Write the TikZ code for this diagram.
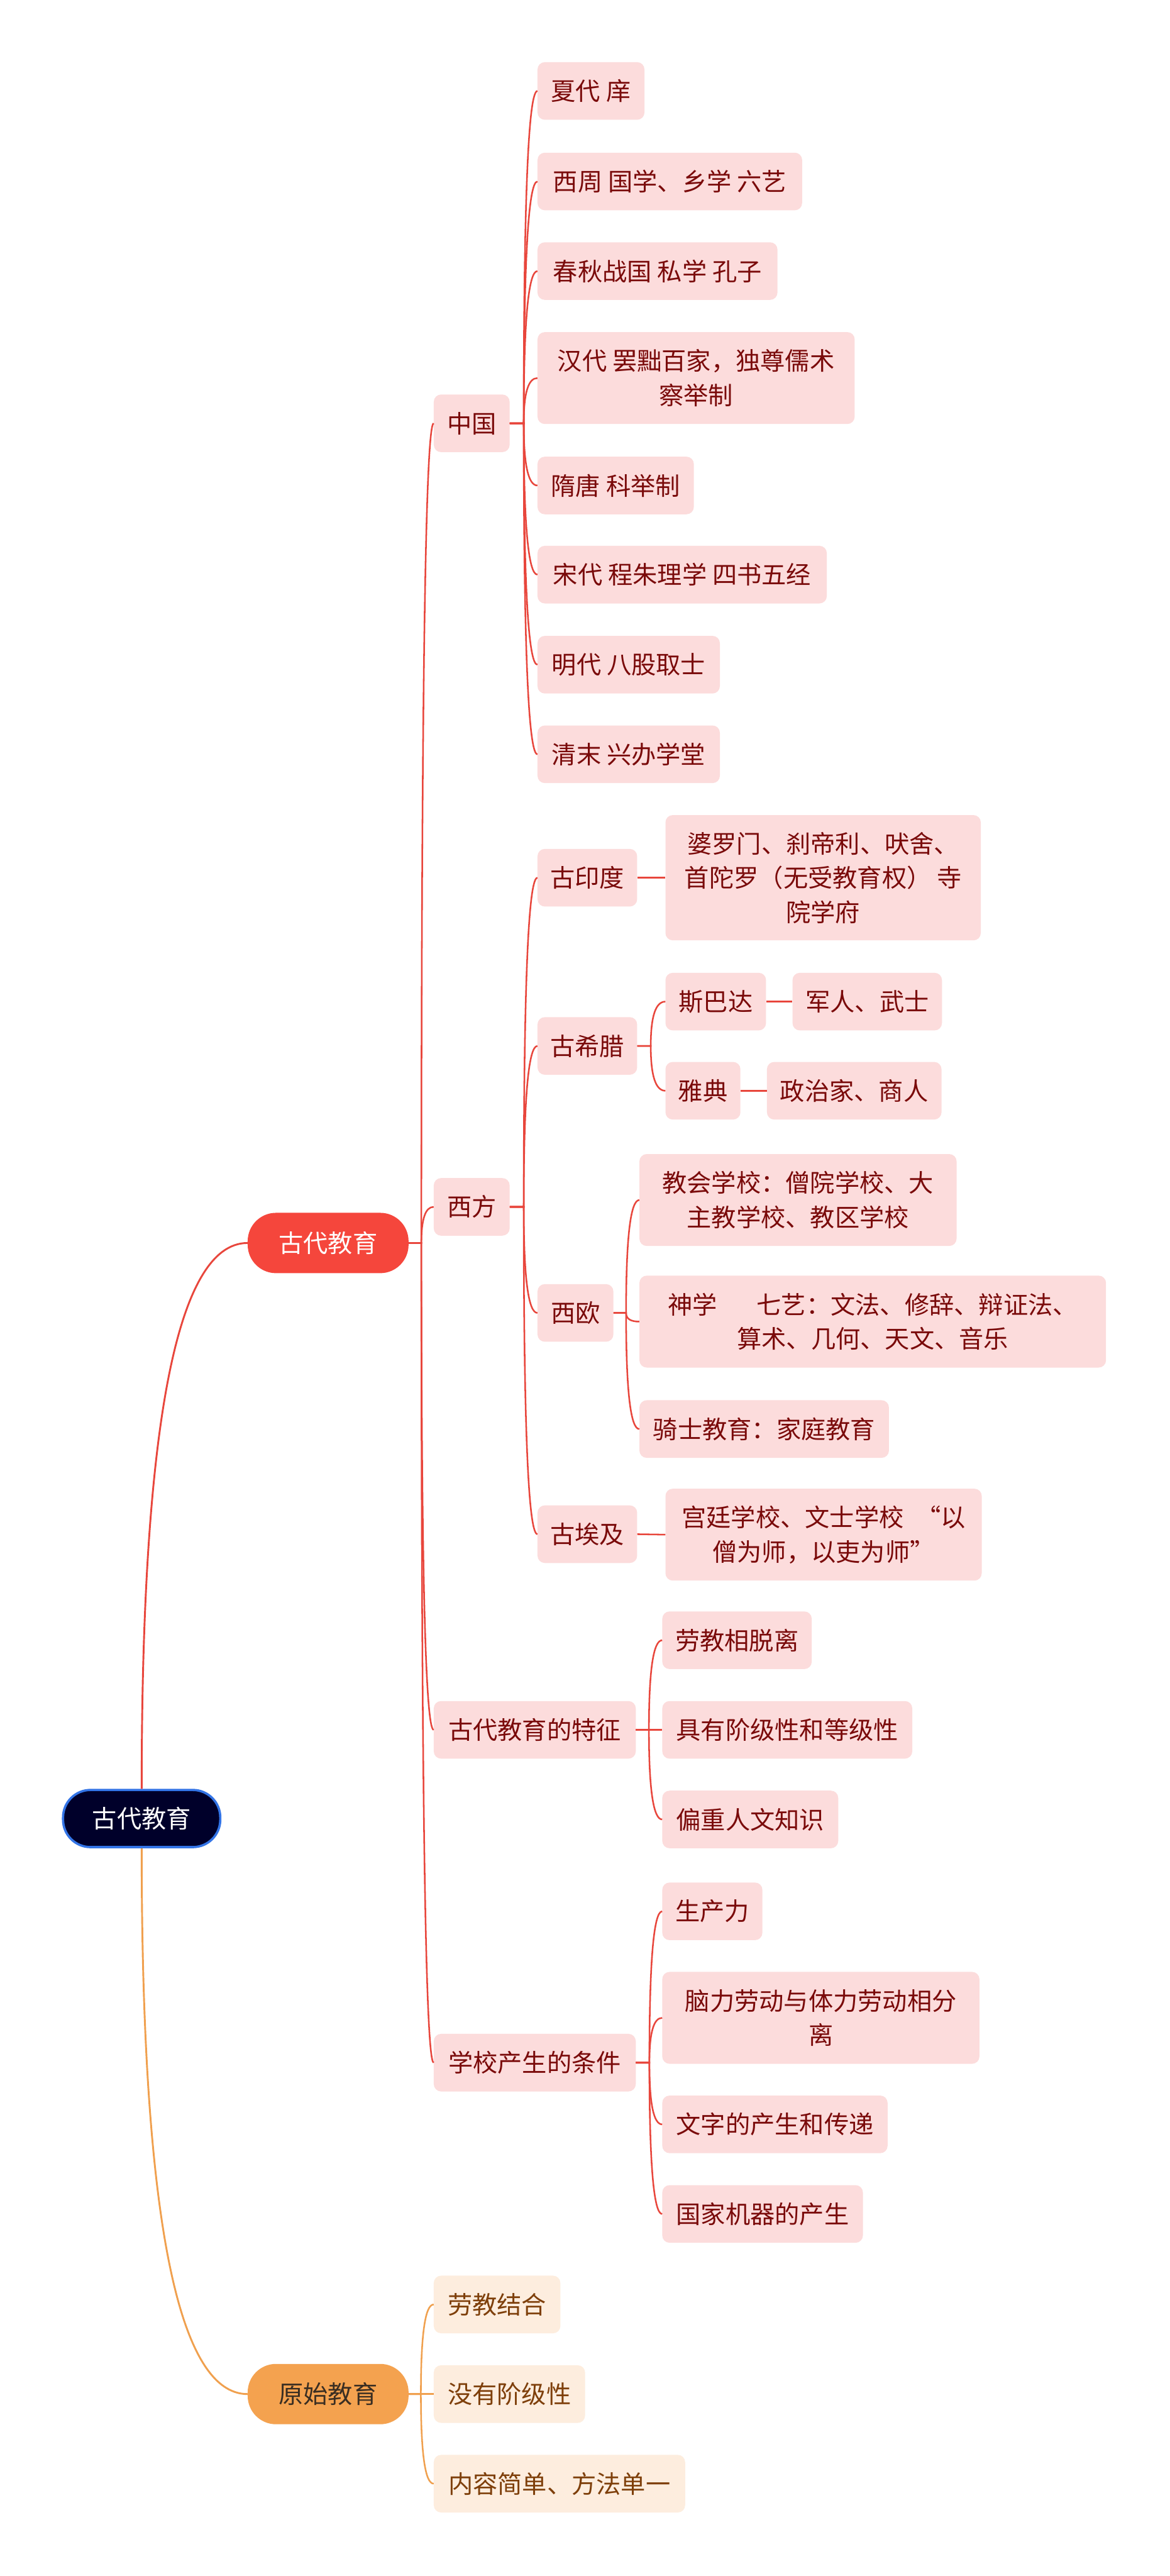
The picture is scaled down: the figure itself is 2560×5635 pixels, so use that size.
\documentclass[tikz,border=0pt]{standalone}
\usepackage{fontspec}
\newfontfamily\cjkfont{Noto Sans CJK SC}
\usetikzlibrary{calc}
\definecolor{pinkfill}{HTML}{FCDCDC}
\definecolor{pinktext}{HTML}{7A0A0A}
\definecolor{redline}{HTML}{E8463C}
\definecolor{redfill}{HTML}{F5463C}
\definecolor{orfill}{HTML}{F4A24F}
\definecolor{ortext}{HTML}{3A2E22}
\definecolor{orlight}{HTML}{FDEDDE}
\definecolor{orbrown}{HTML}{7E3F0A}
\definecolor{orline}{HTML}{F0A04E}
\definecolor{navyfill}{HTML}{00002A}
\definecolor{rootblue}{HTML}{3374E6}
\tikzset{
  base/.style={font={\cjkfont\fontsize{54}{75}\selectfont}, inner xsep=28pt, inner ysep=0pt, anchor=west, align=center},
  pinkbox/.style={base, fill=pinkfill, text=pinktext, rounded corners=16pt, minimum height=126pt},
  orbox/.style={base, fill=orlight, text=orbrown, rounded corners=16pt, minimum height=126pt},
  rootbox/.style={base, anchor=center, fill=navyfill, draw=rootblue, line width=5pt, text=white, rounded corners=60pt, minimum width=344pt, minimum height=125pt},
  lonebox/.style={base, anchor=center, rounded corners=62pt, minimum width=352pt, minimum height=132pt},
  rl/.style={draw=redline, line width=3.5pt},
  ol/.style={draw=orline, line width=3.5pt},
}
\newcommand\mmconn[4]{%
  \draw[#1] (#2.east) -- (#2.east -| #3) .. controls ($(#2.east -| #3)!0.667!(#3 |- #4.west)$) and ($(#4.west)!0.667!(#3 |- #4.west)$) .. (#4.west);}
\begin{document}
\begin{tikzpicture}[x=1pt, y=-1pt]
\useasboundingbox[fill=white] (0,0) rectangle (2560,5635);
% spines
\coordinate (s0) at (922,0);
\coordinate (sZ) at (1146,0);
\coordinate (sX) at (1146,0);
\coordinate (sG) at (1424,0);
\coordinate (sO) at (1370,0);
\coordinate (sT) at (1420,0);
\coordinate (sS) at (1421,0);
\coordinate (sY) at (921,0);
% root and level 1
\node[rootbox] (root) at (310,3978) {古代教育};
\node[lonebox, fill=redfill, text=white] (gd) at (718,2719) {古代教育};
\node[lonebox, fill=orfill, text=ortext] (ys) at (718,5237) {原始教育};
% level 2
\node[pinkbox, minimum width=166pt] (zg) at (949,926) {中国};
\node[pinkbox, minimum width=166pt] (xf) at (949,2640) {西方};
\node[pinkbox, minimum width=442pt] (tz) at (949,3784) {古代教育的特征};
\node[pinkbox, minimum width=442pt] (tj) at (949,4512) {学校产生的条件};
% China
\node[pinkbox, minimum width=234pt] (c1) at (1176,199) {夏代 庠};
\node[pinkbox, minimum width=579pt] (c2) at (1176,397) {西周 国学、乡学 六艺};
\node[pinkbox, minimum width=525pt] (c3) at (1176,593) {春秋战国 私学 孔子};
\node[pinkbox, minimum width=694pt, minimum height=201pt] (c4) at (1176,827) {汉代 罢黜百家，独尊儒术\\察举制};
\node[pinkbox, minimum width=342pt] (c5) at (1176,1062) {隋唐 科举制};
\node[pinkbox, minimum width=633pt] (c6) at (1176,1257) {宋代 程朱理学 四书五经};
\node[pinkbox, minimum width=399pt] (c7) at (1176,1454) {明代 八股取士};
\node[pinkbox, minimum width=399pt] (c8) at (1176,1650) {清末 兴办学堂};
% West
\node[pinkbox, minimum width=217pt] (yd) at (1176,1920) {古印度};
\node[pinkbox, minimum width=690pt, minimum height=274pt] (yd1) at (1456,1920) {婆罗门、刹帝利、吠舍、\\首陀罗（无受教育权） 寺\\院学府};
\node[pinkbox, minimum width=217pt] (xl) at (1176,2288) {古希腊};
\node[pinkbox, minimum width=220pt] (sb) at (1456,2191) {斯巴达};
\node[pinkbox, minimum width=327pt] (sb1) at (1734,2191) {军人、武士};
\node[pinkbox, minimum width=163pt] (yt) at (1456,2386) {雅典};
\node[pinkbox, minimum width=382pt] (yt1) at (1678,2386) {政治家、商人};
\node[pinkbox, minimum width=166pt] (xo) at (1176,2872) {西欧};
\node[pinkbox, minimum width=694pt, minimum height=201pt] (xo1) at (1399,2625) {教会学校：僧院学校、大\\主教学校、教区学校};
\node[pinkbox, minimum width=1021pt, minimum height=201pt] (xo2) at (1399,2891) {神学\hspace{1.6em}七艺：文法、修辞、辩证法、\\算术、几何、天文、音乐};
\node[pinkbox, minimum width=546pt] (xo3) at (1399,3126) {骑士教育：家庭教育};
\node[pinkbox, minimum width=217pt] (ej) at (1176,3356) {古埃及};
\node[pinkbox, minimum width=692pt, minimum height=201pt] (ej1) at (1456,3357) {宫廷学校、文士学校\hspace{0.5em}“以\\僧为师，以吏为师”};
% features
\node[pinkbox, minimum width=327pt] (tz1) at (1449,3588) {劳教相脱离};
\node[pinkbox, minimum width=547pt] (tz2) at (1449,3784) {具有阶级性和等级性};
\node[pinkbox, minimum width=385pt] (tz3) at (1449,3980) {偏重人文知识};
% conditions
\node[pinkbox, minimum width=219pt] (tj1) at (1449,4181) {生产力};
\node[pinkbox, minimum width=694pt, minimum height=201pt] (tj2) at (1449,4414) {脑力劳动与体力劳动相分\\离};
\node[pinkbox, minimum width=493pt] (tj3) at (1449,4647) {文字的产生和传递};
\node[pinkbox, minimum width=439pt] (tj4) at (1449,4843) {国家机器的产生};
% primitive
\node[orbox, minimum width=277pt] (ys1) at (949,5041) {劳教结合};
\node[orbox, minimum width=331pt] (ys2) at (949,5237) {没有阶级性};
\node[orbox, minimum width=550pt] (ys3) at (949,5433) {内容简单、方法单一};
% root connectors
\draw[rl, line width=4pt] (root.north) .. controls ($(root.north)!0.667!(root.north |- gd.west)$) and ($(gd.west)!0.667!(root.north |- gd.west)$) .. (gd.west);
\draw[ol, line width=4pt] (root.south) .. controls ($(root.south)!0.667!(root.south |- ys.west)$) and ($(ys.west)!0.667!(root.south |- ys.west)$) .. (ys.west);
% level 1 -> 2
\foreach \c in {zg,xf,tz,tj} {\mmconn{rl}{gd}{s0}{\c}}
\foreach \c in {c1,c2,c3,c4,c5,c6,c7,c8} {\mmconn{rl}{zg}{sZ}{\c}}
\foreach \c in {yd,xl,xo,ej} {\mmconn{rl}{xf}{sX}{\c}}
\foreach \c in {sb,yt} {\mmconn{rl}{xl}{sG}{\c}}
\foreach \c in {xo1,xo2,xo3} {\mmconn{rl}{xo}{sO}{\c}}
\foreach \c in {tz1,tz2,tz3} {\mmconn{rl}{tz}{sT}{\c}}
\foreach \c in {tj1,tj2,tj3,tj4} {\mmconn{rl}{tj}{sS}{\c}}
\foreach \c in {ys1,ys2,ys3} {\mmconn{ol}{ys}{sY}{\c}}
\draw[rl] (yd.east) -- (yd1.west);
\draw[rl] (sb.east) -- (sb1.west);
\draw[rl] (yt.east) -- (yt1.west);
\draw[rl] (ej.east) -- (ej1.west);
\end{tikzpicture}
\end{document}
